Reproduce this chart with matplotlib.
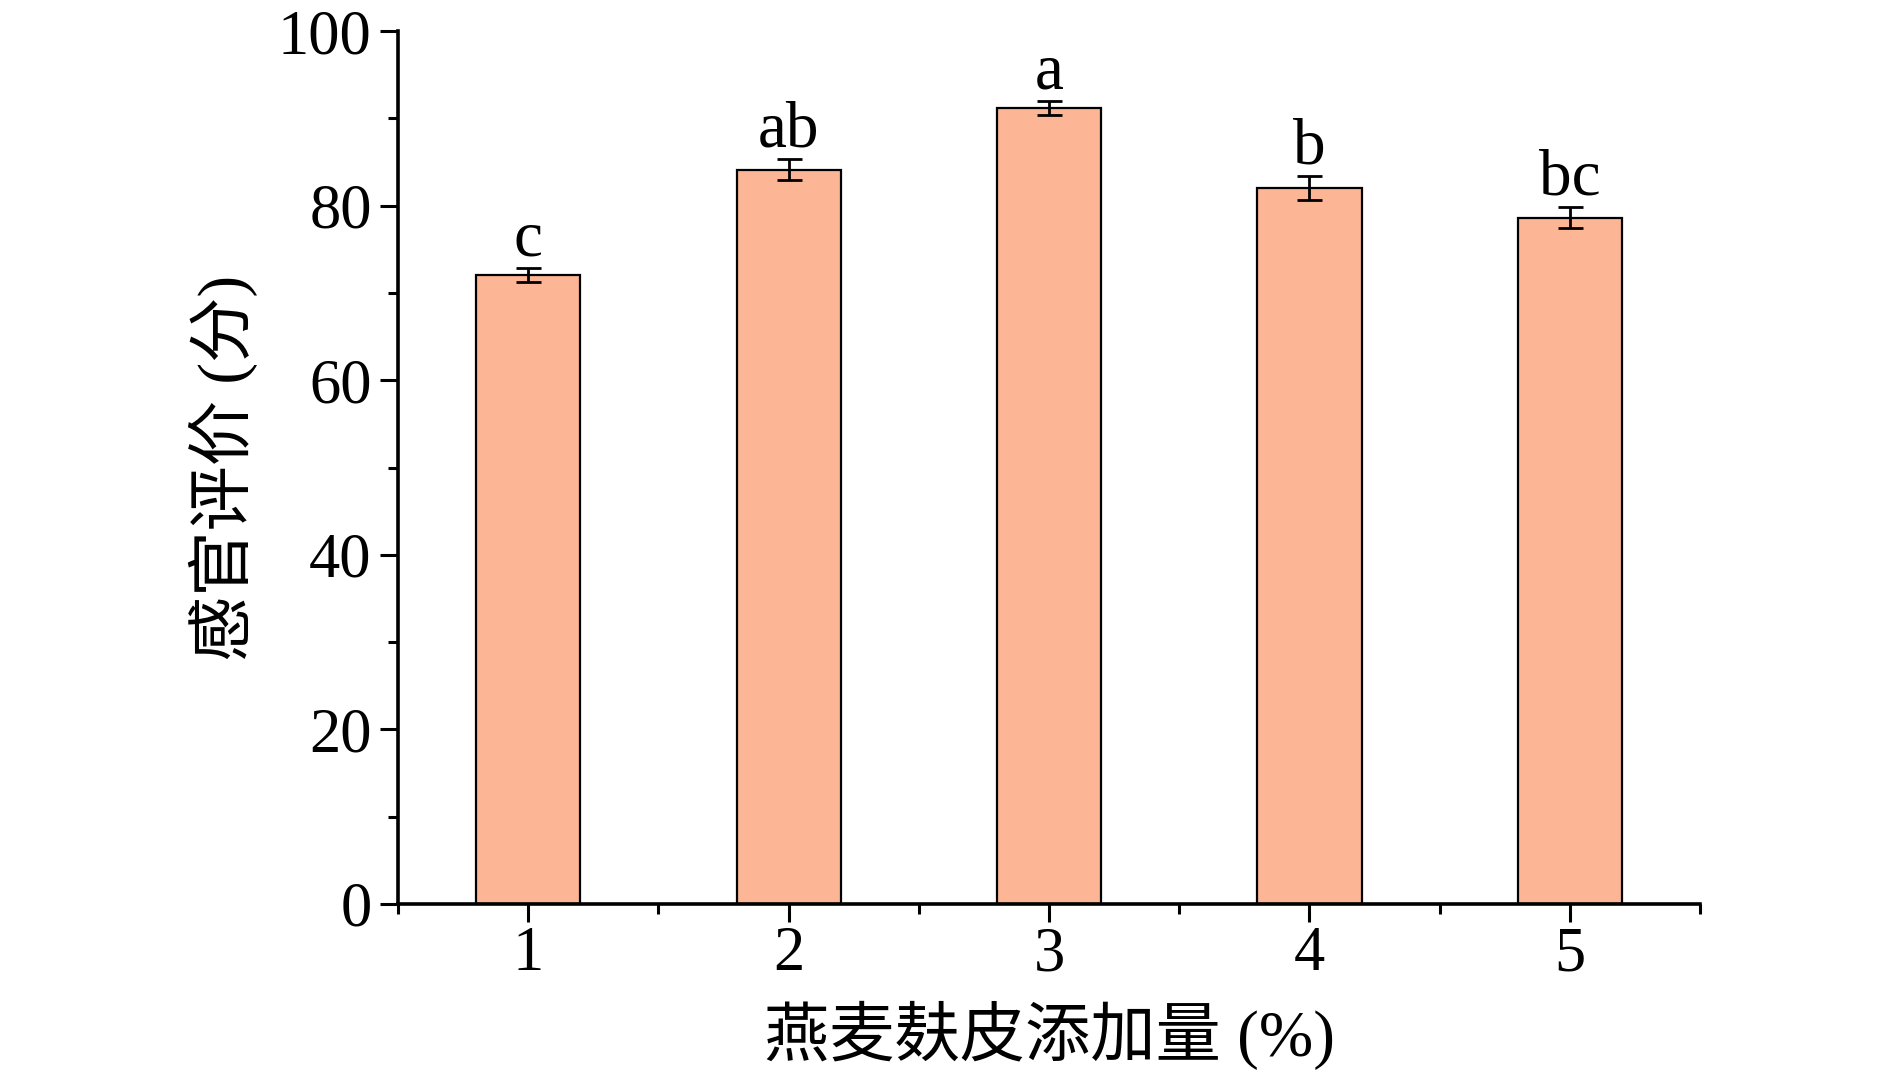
import matplotlib
matplotlib.use("Agg")
import matplotlib.pyplot as plt
from matplotlib.ticker import MultipleLocator, FixedLocator

categories = [1, 2, 3, 4, 5]
scores = [72.1, 84.1, 91.2, 82.0, 78.6]
errors = [0.8, 1.2, 0.8, 1.4, 1.2]
letters = ["c", "ab", "a", "b", "bc"]
xlabel = "燕麦麸皮添加量 (%)"
ylabel = "感官评价 (分)"

fam = ["Liberation Serif", "Noto Sans CJK SC", "DejaVu Sans"]
plt.rcParams["font.family"] = fam

fig = plt.figure(figsize=(18.9, 10.74), dpi=100)
ax = fig.add_axes([0.2106, 0.1583, 0.6889, 0.8128])

ax.bar(categories, scores, width=0.4, color="#FCB595", edgecolor="black",
       linewidth=1.6, zorder=2)
ax.errorbar(categories, scores, yerr=errors, fmt="none", ecolor="black",
            elinewidth=2.0, capsize=9, capthick=2.0, zorder=3)
for x, y, e, t in zip(categories, scores, errors, letters):
    ax.annotate(t, (x, y + e), xytext=(0, 9), textcoords="offset points",
                ha="center", va="baseline", fontsize=47, family=fam)

ax.set_xlim(0.5, 5.5)
ax.set_ylim(0, 100)
ax.yaxis.set_major_locator(MultipleLocator(20))
ax.yaxis.set_minor_locator(MultipleLocator(10))
ax.xaxis.set_major_locator(FixedLocator(categories))
ax.xaxis.set_minor_locator(FixedLocator([0.5, 1.5, 2.5, 3.5, 4.5, 5.5]))

for s in ["top", "right"]:
    ax.spines[s].set_visible(False)
for s in ["left", "bottom"]:
    ax.spines[s].set_linewidth(2.6)

ax.tick_params(which="major", direction="out", length=13, width=2.2,
               labelsize=45)
ax.tick_params(axis="x", which="major", pad=3)
ax.tick_params(axis="y", which="major", pad=6)
ax.tick_params(which="minor", direction="out", length=7, width=2.2)

ax.set_xlabel(xlabel, fontsize=47, labelpad=12, family=fam)
ax.set_ylabel(ylabel, fontsize=47, labelpad=14, family=fam)

fig.savefig("out.png", dpi=100)
